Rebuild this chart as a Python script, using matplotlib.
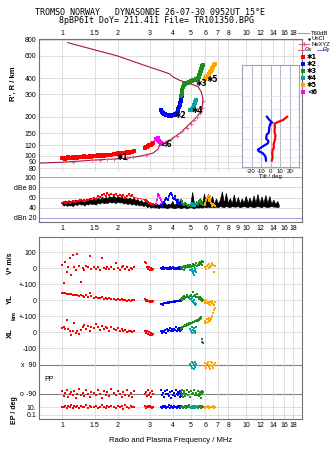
import numpy as np
import matplotlib.pyplot as plt
from matplotlib.lines import Line2D

plt.rcParams['font.family'] = ['Liberation Sans', 'DejaVu Sans']
plt.rcParams['font.size'] = 5

# ---------------- axes ticks ----------------
freq_ticks = [1, 1.5, 2, 3, 4, 5, 6, 7, 8, 10, 12, 14, 16, 18]
freq_ticks_amp = [1, 1.5, 2, 3, 4, 5, 6, 7, 8, 9, 10, 12, 14, 16, 18]
height_ticks = [80, 90, 100, 120, 150, 200, 300, 400, 600, 800]
amp_ticks = [20, 40, 60, 80, 100]
amp_labels = ['dBn 20', '40', '60', 'dBe 80', '100']
tilt_ticks = [-20, -10, 0, 10, 20]

# ---------------- profile (line) and NeXYZ points ----------------
prof_f = [0.75, 1.00, 1.36, 1.60, 1.89, 2.23, 2.64, 3.11, 3.31, 3.39,
          3.83, 4.35, 4.93, 5.25, 5.58, 5.78, 5.80, 5.70, 5.46, 4.93,
          4.35, 4.00, 3.83, 3.39, 2.99, 1.97, 1.60, 1.07]
prof_h = [87.5, 88.9, 91.5, 93.0, 94.0, 95.5, 99.0, 104.6, 112, 122,
          132, 149, 177, 193, 213, 246, 278, 312, 345, 364,
          385, 409, 433, 460, 488, 600, 649, 757]

nexyz_f = [1.15, 1.45, 1.60, 1.75, 1.90, 2.25, 2.43, 2.84, 3.60, 3.90,
           4.20, 4.50, 4.75, 5.00, 5.20, 5.40, 5.60, 5.75, 5.80]
nexyz_h = [89.5, 92.0, 93.0, 93.5, 94.0, 95.5, 97.0, 100.5, 127, 134,
           143, 155, 163, 175, 188, 200, 215, 235, 265]

# ---------------- echo traces ----------------
# trace 1 (red)
red_f = [1.00, 1.02, 1.04, 1.06, 1.08, 1.10, 1.12, 1.14, 1.16, 1.18,
         1.20, 1.23, 1.26, 1.29, 1.32, 1.35, 1.38, 1.41, 1.44, 1.48,
         1.52, 1.56, 1.60, 1.64, 1.68, 1.72, 1.76, 1.80, 1.85, 1.90,
         1.95, 2.00, 2.05, 2.10, 2.15, 2.20, 2.25, 2.30, 2.35, 2.40,
         2.45, 2.80, 2.84, 2.88, 2.92, 2.96, 3.00, 3.04, 3.08, 3.12]
red_h = [95.5, 96.5, 95.0, 96.0, 97.0, 95.5, 96.0, 97.5, 96.5, 97.0,
         96.0, 97.5, 98.0, 97.0, 98.5, 97.5, 98.0, 99.0, 98.0, 99.5,
         99.0, 100.5, 100.0, 101.0, 100.0, 101.5, 101.0, 102.0, 101.5, 103.0,
         102.5, 104.0, 103.0, 104.5, 105.0, 104.0, 106.0, 105.5, 107.0, 106.0,
         108.0, 115.0, 117.0, 116.0, 119.0, 120.0, 122.0, 121.0, 124.0, 125.0]
red_db = [50, 51, 49, 50, 52, 50, 51, 53, 52, 51,
          54, 53, 55, 54, 56, 53, 55, 58, 57, 60,
          58, 62, 61, 64, 66, 63, 68, 65, 67, 64,
          66, 63, 65, 62, 64, 60, 63, 66, 62, 64,
          60, 56, 55, 53, 52, 50, 49, 48, 47, 46]
red_v = [20, -94, 41, -21, 8, 62, -42, 83, 5, -10,
         89, 12, -84, 3, -8, 14, 6, 77, -5, 10,
         -3, 8, -12, 62, 4, -6, 9, -2, 11, -7,
         30, 2, -9, 5, 12, -4, 7, -11, 3, -6,
         6, 41, 31, 8, -5, 10, -8, 4, -12, -3]
red_yl = [48, 44, 46, 42, 40, 38, 41, 35, 33, 36,
          30, 28, 32, 25, 22, 30, 18, 45, 24, 15,
          18, 12, 16, 22, 10, 14, 8, 12, 6, 10,
          4, 8, 2, 6, 0, 4, -2, 2, -4, 0,
          3, 5, -2, 0, -6, -3, -8, -5, -10, -7]
red_xl = [25, 30, 22, 75, 18, 10, -20, 5, 60, -5,
          8, -10, 15, 30, 45, 20, 40, 10, 35, 25,
          50, 30, 15, 40, 20, 35, 25, 10, 30, 20,
          15, 25, 10, 20, 5, 15, 0, 10, 5, 0,
          8, 5, -5, 10, -10, 0, -15, -5, -20, -8]
red_pp = [-75, -105, -88, -68, -110, -95, -80, -100, -72, -115,
          -90, -62, -98, -84, -108, -70, -93, -112, -78, -86,
          -102, -66, -91, -118, -74, -96, -83, -106, -64, -89,
          -100, -76, -92, -114, -81, -97, -69, -104, -87, -110,
          -73, -95, -82, -108, -65, -99, -88, -112, -77, -94]
red_ep = [12, 8, 20, 6, 15, 10, 25, 7, 18, 9,
          14, 5, 22, 11, 8, 30, 6, 16, 12, 9,
          20, 7, 13, 40, 10, 5, 17, 8, 24, 11,
          6, 19, 9, 14, 4, 28, 10, 7, 15, 12,
          9, 18, 6, 13, 22, 8, 16, 10, 5, 12]

# trace 2 (blue)
blue_f = [3.46, 3.50, 3.54, 3.58, 3.62, 3.66, 3.70, 3.75, 3.80, 3.85,
          3.90, 3.95, 4.00, 4.05, 4.10, 4.15, 4.20, 4.24, 4.28, 4.31,
          4.34, 4.37, 4.40, 4.43, 4.46]
blue_h = [228, 218, 213, 211, 209, 208, 207, 206, 205, 205,
          205, 206, 207, 208, 210, 212, 216, 222, 230, 238,
          246, 256, 266, 278, 292]
blue_db = [45, 42, 48, 52, 56, 60, 58, 55, 62, 66,
           68, 64, 60, 58, 62, 56, 52, 55, 50, 48,
           52, 47, 45, 50, 46]
blue_v = [2, -5, 6, -3, 0, 4, -6, 3, -2, 5,
          -4, 1, 6, -3, 2, -5, 4, 0, -2, 7,
          3, -4, 5, -1, 2]
blue_yl = [-25, -22, -28, -18, -20, -15, -17, -12, -14, -10,
           -12, -8, -10, -6, -9, -5, -7, -3, -6, -2,
           -4, 0, -3, 2, -1]
blue_xl = [5, -5, 10, 0, 15, -3, 20, 8, 12, 25,
           5, 18, 10, 22, 15, 30, 8, 20, 12, 25,
           18, 10, 28, 15, 20]
blue_pp = [-70, -100, -85, -110, -75, -95, -65, -90, -105, -80,
           -115, -72, -98, -86, -108, -68, -93, -78, -102, -88,
           -112, -74, -96, -84, -106]
blue_ep = [10, 6, 15, 8, 20, 5, 12, 9, 25, 7,
           14, 11, 6, 18, 9, 13, 7, 22, 10, 8,
           16, 6, 12, 9, 14]

# trace 3 (green)
green_f = [4.44, 4.46, 4.48, 4.50, 4.53, 4.56, 4.60, 4.65, 4.70, 4.76,
           4.82, 4.88, 4.94, 5.00, 5.06, 5.13, 5.20, 5.27, 5.34, 5.40,
           5.46, 5.50, 5.54, 5.58, 5.62, 5.66, 5.70, 5.74, 5.78, 5.82]
green_h = [290, 300, 312, 325, 340, 352, 358, 362, 365, 368,
           370, 373, 376, 379, 382, 385, 388, 391, 394, 397,
           400, 410, 422, 433, 445, 458, 472, 484, 495, 505]
green_db = [56, 54, 52, 50, 47, 48, 46, 49, 47, 45,
            44, 46, 45, 43, 47, 44, 46, 45, 48, 50,
            46, 50, 54, 52, 55, 50, 48, 52, 47, 45]
green_v = [5, -5, 10, 0, 8, -8, 12, 2, 15, 5,
           18, 8, 22, 10, 14, 25, 12, 20, 30, 15,
           22, 35, 18, 28, 40, 24, 32, 45, 20, 38]
green_yl = [10, 0, 15, 5, 20, 8, 25, 12, 18, 30,
            22, 15, 28, 35, 20, 50, 25, 30, 18, 40,
            22, 15, 10, 20, 5, 12, 0, 8, -5, 2]
green_xl = [20, 28, 24, 35, 30, 40, 38, 45, 42, 50,
            48, 55, 52, 60, 58, 65, 62, 70, 68, 75,
            72, 80, 78, 85, 90, 88, 95, -45, -60, -70]
green_pp = [-80, -100, -70, -95, -110, -85, -75, -105, -90, -65,
            -98, -82, -112, -76, -94, -88, -70, -102, -84, -96,
            -72, -108, -90, -78, -100, -86, -115, -74, -92, -80]
green_ep = [8, 15, 10, 20, 6, 12, 9, 18, 7, 14,
            11, 25, 8, 13, 6, 16, 10, 9, 22, 12,
            7, 15, 10, 18, 8, 12, 6, 14, 9, 11]

# trace 4 (cyan)
cyan_f = [4.92, 4.98, 5.04, 5.10, 5.14, 5.18, 5.22, 5.25, 5.28, 5.31]
cyan_h = [226, 228, 230, 232, 236, 242, 248, 255, 262, 269]
cyan_db = [46, 48, 50, 47, 44, 45, 48, 46, 44, 47]
cyan_v = [-10, 5, -20, -5, -30, -15, -42, -8, 0, -25]
cyan_yl = [10, 5, -5, 15, -10, -20, 0, -30, -15, -25]
cyan_xl = [20, 5, 30, -5, 15, 0, 25, -6, 10, 33]
cyan_pp = [95, 80, 110, 70, 100, 88, 65, 105, 78, 92]
cyan_ep = [10, 6, 14, 8, 12, 5, 9, 16, 7, 11]

# trace 5 (orange)
orange_f = [5.95, 6.00, 6.06, 6.12, 6.18, 6.24, 6.30, 6.36, 6.42, 6.48,
            6.54, 6.60, 6.66, 6.72]
orange_h = [398, 403, 408, 414, 420, 427, 435, 444, 454, 465,
            477, 490, 504, 520]
orange_db = [45, 50, 56, 60, 62, 58, 54, 62, 50, 46, 44, 48, 45, 44]
orange_v = [5, 10, -5, 15, 20, 0, 25, 8, 12, 30, 18, 22, -25, 15]
orange_yl = [-5, -15, 0, -20, -10, -25, -8, -30, -12, -18, -5, -22, -28, -10]
orange_xl = [60, 70, 58, 80, 65, 75, 90, 70, 85, 100, 95, 120, 140, 150]
orange_pp = [85, 100, 70, 95, 110, 78, 90, 65, 105, 80, 98, 72, 88, 102]
orange_ep = [10, 7, 12, 8, 15, 9, 6, 11, 13, 8, 10, 14, 7, 9]

# trace 6 (magenta)
mag_f = [3.22, 3.26, 3.30, 3.33, 3.36, 3.40, 3.44, 3.48]
mag_h = [134, 135, 133, 136, 131, 128, 126, 124]
mag_db = [47, 55, 63, 66, 65, 60, 56, 52]

# unclassified amplitude (black band: upper and lower envelope)
black_f = [1.00, 1.02, 1.04, 1.06, 1.08, 1.10, 1.12, 1.14, 1.17, 1.20,
           1.23, 1.26, 1.29, 1.32, 1.35, 1.38, 1.41, 1.44, 1.48, 1.52,
           1.56, 1.60, 1.64, 1.68, 1.72, 1.76, 1.80, 1.85, 1.90, 1.95,
           2.00, 2.05, 2.10, 2.15, 2.20, 2.26, 2.32, 2.38, 2.44, 2.50,
           2.56, 2.62, 2.68, 2.75, 2.82, 2.89, 2.96, 3.03, 3.10, 3.18,
           3.26, 3.34, 3.42, 3.50, 3.59, 3.68, 3.77, 3.86, 3.96, 4.06,
           4.16, 4.27, 4.38, 4.49, 4.60, 4.72, 4.84, 4.96, 5.08, 5.21,
           5.34, 5.47, 5.61, 5.75, 5.89, 6.04, 6.19, 6.35, 6.51, 6.67,
           6.84, 7.01, 7.19, 7.37, 7.55, 7.74, 7.94, 8.14, 8.34, 8.55,
           8.77, 8.99, 9.21, 9.44, 9.68, 9.92, 10.17, 10.42, 10.68, 10.95,
           11.22, 11.50, 11.79, 12.09, 12.39, 12.70, 13.02, 13.34, 13.68, 14.02,
           14.37, 14.73, 15.00]
black_hi = [52, 50, 54, 49, 55, 51, 53, 50, 56, 52,
            57, 53, 55, 51, 58, 54, 59, 55, 58, 54,
            60, 56, 62, 58, 61, 59, 63, 60, 64, 59,
            63, 60, 62, 58, 61, 57, 60, 56, 59, 55,
            57, 52, 55, 50, 53, 48, 50, 47, 49, 46,
            48, 45, 49, 46, 51, 45, 48, 46, 53, 45,
            49, 46, 51, 45, 47, 46, 47, 46, 71, 45,
            53, 47, 59, 46, 68, 47, 67, 48, 63, 47,
            58, 48, 56, 72, 48, 69, 49, 59, 48, 66,
            48, 61, 48, 58, 49, 63, 49, 60, 48, 64,
            49, 67, 48, 62, 49, 65, 48, 63, 47, 56,
            47, 53, 46]
black_lo = [46, 44, 47, 43, 46, 44, 45, 43, 47, 45,
            48, 46, 47, 44, 48, 46, 49, 47, 48, 46,
            50, 48, 51, 49, 50, 49, 52, 50, 51, 49,
            52, 50, 51, 48, 50, 47, 49, 46, 48, 45,
            47, 44, 46, 43, 45, 41, 43, 40, 42, 40,
            41, 39, 42, 40, 41, 39, 40, 41, 40, 39,
            40, 41, 39, 40, 41, 39, 40, 41, 40, 39,
            41, 40, 41, 40, 42, 41, 42, 41, 42, 41,
            42, 41, 43, 42, 41, 43, 42, 41, 43, 42,
            42, 43, 41, 42, 43, 42, 41, 43, 42, 41,
            42, 43, 42, 41, 43, 42, 41, 42, 43, 42,
            42, 41, 42]

# tilt profiles (inset)
thx_deg = [17.3, 13, 7.7, 4, 4.5, 4, 5, 4.8, 4, 3, 3.5, 2, 1.6, 2, 1.2]
thx_h = [250, 232, 222, 214, 200, 178, 165, 153, 143, 133, 125, 118, 110, 100, 93]
thy_deg = [-4, -1.3, 1.6, -0.2, -1.3, -2, -4, -4.8, -2.3, -3, -7.7, -13.3, -12.6, -8.3, -5.5, -4.8]
thy_h = [250, 232, 219, 214, 200, 173, 168, 153, 144, 137, 129, 119, 115, 110, 102.5, 93]

# trace labels on the height panel
lab_txt = ['\u27311', '\u27312', '\u27313', '\u27314', '\u27315', '\u22b26']
lab_f = [2.04, 4.21, 5.45, 5.21, 6.28, 3.51]
lab_h = [97, 206, 362, 225, 391, 122]

C_RED, C_BLUE, C_GREEN = '#ff0000', '#0000ff', '#1f8c1f'
C_CYAN, C_ORANGE, C_MAG = '#00a5a5', '#ffa500', '#ff00ff'
C_PROF, C_NE = '#a8143c', '#e8609a'

traces = [
    dict(f=red_f, h=red_h, db=red_db, v=red_v, yl=red_yl, xl=red_xl, pp=red_pp, ep=red_ep, c=C_RED),
    dict(f=blue_f, h=blue_h, db=blue_db, v=blue_v, yl=blue_yl, xl=blue_xl, pp=blue_pp, ep=blue_ep, c=C_BLUE),
    dict(f=green_f, h=green_h, db=green_db, v=green_v, yl=green_yl, xl=green_xl, pp=green_pp, ep=green_ep, c=C_GREEN),
    dict(f=cyan_f, h=cyan_h, db=cyan_db, v=cyan_v, yl=cyan_yl, xl=cyan_xl, pp=cyan_pp, ep=cyan_ep, c=C_CYAN),
    dict(f=orange_f, h=orange_h, db=orange_db, v=orange_v, yl=orange_yl, xl=orange_xl, pp=orange_pp, ep=orange_ep, c=C_ORANGE),
]

# offsets of the stacked rows in the lower panel
YL_OFF, XL_OFF, PP_OFF, EP_OFF, EP_SCALE = -200, -400, -693, -891, 24


def ep_pos(ep):
    return EP_OFF + EP_SCALE * np.log10(np.asarray(ep, dtype=float))


W, H = 335, 451


def box(x0, y0, x1, y1):
    return [x0 / W, 1 - y1 / H, (x1 - x0) / W, (y1 - y0) / H]


fig = plt.figure(figsize=(W / 100, H / 100), dpi=100)
ax_h = fig.add_axes(box(39.3, 39.3, 301.7, 172))
ax_a = fig.add_axes(box(39.3, 172, 301.7, 222.3))
ax_v = fig.add_axes(box(39.3, 237.3, 301.7, 419.3))

FRAME = '#707070'
GRID = '#d9d9d9'
for ax in (ax_h, ax_a, ax_v):
    ax.set_xscale('log')
    ax.set_xlim(0.75, 20)
    ax.minorticks_off()
    for s in ax.spines.values():
        s.set_color(FRAME)
        s.set_linewidth(0.8)
    ax.tick_params(length=0, labelsize=5, pad=2)
    ax.set_axisbelow(True)

# ---------------- height panel ----------------
ax_h.set_yscale('log')
ax_h.set_ylim(74.6, 804)
ax_h.minorticks_off()
ax_h.xaxis.tick_top()
ax_h.set_xticks(freq_ticks)
ax_h.set_xticklabels([str(t) for t in freq_ticks])
ax_h.set_yticks(height_ticks)
ax_h.set_yticklabels([str(t) for t in height_ticks])
ax_h.spines['bottom'].set_visible(False)
ax_h.grid(True, color=GRID, lw=0.6)

ax_h.plot(prof_f, prof_h, color=C_PROF, lw=0.8)
ax_h.plot(nexyz_f, nexyz_h, ls='none', marker='+', ms=3, mew=0.7, color=C_NE)
for t in traces:
    ax_h.plot(t['f'], t['h'], ls='none', marker='s', ms=2.5, mew=0, color=t['c'])
ax_h.plot(mag_f, mag_h, ls='none', marker='s', ms=2.5, mew=0, color=C_MAG)
for txt, f, h in zip(lab_txt, lab_f, lab_h):
    ax_h.annotate(txt, (f, h), xytext=(-2, 0), textcoords='offset points',
                  ha='left', va='center', fontsize=5.5, fontweight='bold',
                  family=['DejaVu Sans'])

# ---------------- amplitude panel ----------------
ax_a.set_ylim(10.9, 110.5)
ax_a.set_xticks(freq_ticks_amp)
ax_a.set_xticklabels([str(t) for t in freq_ticks_amp])
ax_a.set_yticks(amp_ticks)
ax_a.set_yticklabels(amp_labels)
ax_a.spines['top'].set_visible(False)
for v in amp_ticks:
    ax_a.axhline(v, color='#a0a0e8' if v == 20 else ('#a0a0a0' if v == 100 else GRID),
                 lw=0.7, zorder=0)
ax_a.fill_between(black_f, black_lo, black_hi, color='k', lw=0.5)
for t in traces:
    ax_a.plot(t['f'], t['db'], ls='-', lw=0.6, marker='s', ms=1.6, mew=0, color=t['c'])
ax_a.plot(mag_f, mag_db, ls='-', lw=0.6, marker='s', ms=1.6, mew=0, color=C_MAG)

# ---------------- velocity / location / polarization panel ----------------
ax_v.set_ylim(-943.75, 193.75)
v_ticks = [100, 0, -100, YL_OFF, YL_OFF - 100, XL_OFF, XL_OFF - 100,
           PP_OFF + 90, PP_OFF - 90, float(ep_pos(10)), float(ep_pos(0.1))]
v_labels = ['100', '0', '+-100', '0', '+-100', '0', '-100', 'x  90', 'o -90', '10.', '0.1']
ax_v.set_yticks(v_ticks)
ax_v.set_yticklabels(v_labels)
ax_v.set_xticks(freq_ticks)
ax_v.set_xticklabels([str(t) for t in freq_ticks])
ax_v.grid(True, axis='x', color=GRID, lw=0.6)
for y in v_ticks:
    dark = y in (PP_OFF + 90, PP_OFF - 90)
    ax_v.axhline(y, color='#808080' if dark else GRID, lw=0.8 if dark else 0.6, zorder=0)
for t in traces:
    f = t['f']
    kw = dict(ls='none', marker='s', ms=2.0, mew=0, color=t['c'])
    ax_v.plot(f, t['v'], **kw)
    ax_v.plot(f, np.array(t['yl']) + YL_OFF, **kw)
    ax_v.plot(f, np.array(t['xl']) + XL_OFF, **kw)
    ax_v.plot(f, np.array(t['pp']) + PP_OFF, **kw)
    ax_v.plot(f, ep_pos(t['ep']), **kw)
ax_v.text(0.8, PP_OFF, 'PP', fontsize=5, ha='left', va='center')
ax_v.set_xlabel('Radio and Plasma Frequency / MHz', fontsize=5.5, labelpad=6)

# ---------------- tilt inset ----------------
ax_t = fig.add_axes(box(242, 65, 299.3, 167.3))
ax_t.set_facecolor('white')
ax_t.set_yscale('log')
ax_t.set_ylim(81.3, 503)
ax_t.set_xlim(-30, 30)
ax_t.minorticks_off()
ax_t.set_yticks(height_ticks)
ax_t.set_yticklabels([])
ax_t.set_xticks(tilt_ticks)
ax_t.set_xticklabels([str(t) for t in tilt_ticks])
ax_t.tick_params(length=0, labelsize=4.3, pad=1)
ax_t.grid(True, axis='x', color='#a8a8c0', lw=0.6)
ax_t.grid(True, axis='y', color='#e0e0e8', lw=0.5)
for s in ax_t.spines.values():
    s.set_color('#a0a0c0')
    s.set_linewidth(0.8)
ax_t.plot(thx_deg, thx_h, color=C_RED, lw=1.6)
ax_t.plot(thy_deg, thy_h, color=C_BLUE, lw=1.6)
ax_t.set_xlabel('Tilt / deg', fontsize=4.3, labelpad=0)

# ---------------- titles and side labels ----------------
mono = ['DejaVu Sans Mono']
fig.text(35 / W, 1 - 12.3 / H, 'TROMSO NORWAY   DYNASONDE 26-07-30 0952UT 15\u00b0E',
         family=mono, fontsize=6, ha='left', va='center')
fig.text(59.3 / W, 1 - 20.7 / H, '8pBP6It DoY= 211.411 File= TR101350.BPG',
         family=mono, fontsize=6, ha='left', va='center')

fig.text(13 / W, 1 - 84 / H, "R', R / km", rotation=90, fontsize=5.5,
         fontweight='bold', ha='center', va='center')
fig.text(10 / W, 1 - 263 / H, 'V* m/s', rotation=90, fontsize=5,
         fontweight='bold', ha='center', va='center')
fig.text(10 / W, 1 - 299 / H, 'YL', rotation=90, fontsize=5.5,
         fontweight='bold', ha='center', va='center')
fig.text(14 / W, 1 - 316 / H, 'km', rotation=90, fontsize=4.5,
         fontweight='bold', ha='center', va='center')
fig.text(10 / W, 1 - 333 / H, 'XL', rotation=90, fontsize=5.5,
         fontweight='bold', ha='center', va='center')
fig.text(14 / W, 1 - 410 / H, 'EP / deg', rotation=90, fontsize=5,
         fontweight='bold', ha='center', va='center')

# ---------------- legend (right side) ----------------
LEG_FS = 4.2


def px(x, y):
    return x / W, 1 - y / H


def leg_line(x0, x1, y, color):
    (a, b), (c, _) = px(x0, y), px(x1, y)
    fig.add_artist(Line2D([a, c], [b, b], color=color, lw=0.8))


leg_line(297.7, 309, 33.3, '#a0a0a0')
fig.text(*px(311, 33.3), 'T60dB', fontsize=LEG_FS, va='center')
fig.add_artist(Line2D([px(308.5, 38.5)[0]], [px(308.5, 38.5)[1]], marker='.', ms=1.5, color='k'))
fig.text(*px(312, 38.5), 'UnCl', fontsize=LEG_FS, va='center')
fig.add_artist(Line2D([px(299, 44)[0], px(304, 44)[0], px(309, 44)[0]], [px(0, 44)[1]] * 3,
                      color=C_NE, lw=0.8, marker='+', markevery=[1], ms=3))
fig.text(*px(311, 44), 'NeXYZ', fontsize=LEG_FS, va='center')
leg_line(297.7, 304, 49.5, C_NE)
fig.text(*px(305, 49.5), '\u0398x', fontsize=LEG_FS, va='center')
leg_line(316.5, 322.5, 49.5, '#8080e0')
fig.text(*px(323, 49.5), '\u0398y', fontsize=LEG_FS, va='center')

leg_cols = [C_RED, C_BLUE, C_GREEN, C_CYAN, C_ORANGE, C_MAG]
leg_y = [57.3, 64.3, 71.3, 78.3, 85.0, 91.7]
for col, y, txt in zip(leg_cols, leg_y, lab_txt):
    fig.add_artist(Line2D([px(302.7, y)[0]], [px(302.7, y)[1]], marker='s', ms=2.3,
                          mew=0, color=col))
    fig.text(*px(307, y), txt, fontsize=4.8, fontweight='bold', va='center',
             family=['DejaVu Sans'])

fig.savefig('out.png', dpi=100)
